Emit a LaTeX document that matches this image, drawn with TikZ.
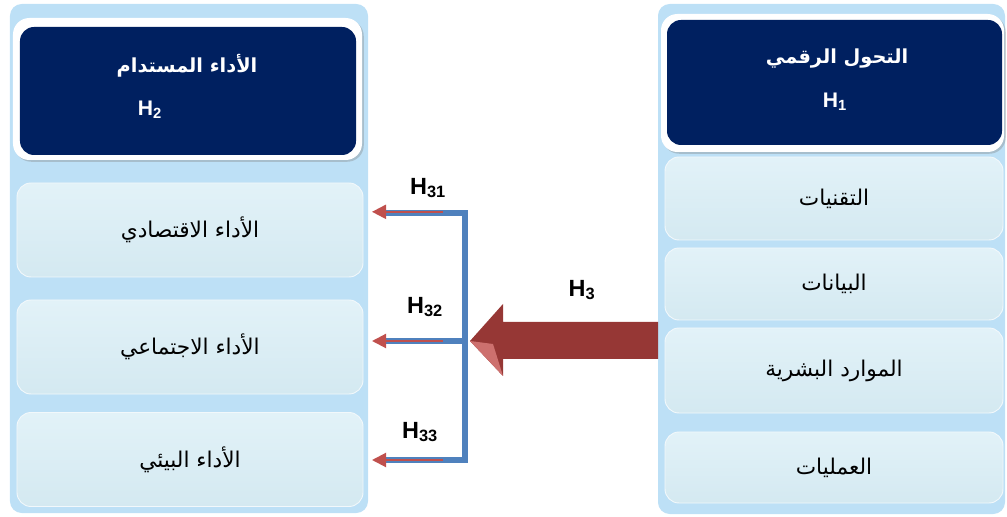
\documentclass[tikz,border=0pt]{standalone}
\usepackage{fontspec}
\setmainfont{Liberation Sans}
\newfontfamily\arabicfont[Script=Arabic]{DejaVu Sans}
\TeXXeTstate=1
\usetikzlibrary{arrows.meta,positioning,shadows,calc}
\definecolor{panelblue}{RGB}{189,224,246}
\definecolor{boxtop}{RGB}{226,242,248}
\definecolor{boxbot}{RGB}{212,233,241}
\definecolor{navy}{RGB}{0,32,96}
\definecolor{brblue}{RGB}{79,129,189}
\definecolor{arrred}{RGB}{192,80,77}
\definecolor{bigred}{RGB}{150,55,53}
\definecolor{lightred}{RGB}{205,112,110}
\begin{document}
\begin{tikzpicture}[x=0.03cm,y=-0.03cm,
  panel/.style={fill=panelblue,rounded corners=10pt,inner sep=0pt,outer sep=0pt},
  hdframe/.style={fill=white,rounded corners=14pt,inner sep=0pt,outer sep=0pt,
    drop shadow={shadow xshift=1.5pt,shadow yshift=-1.5pt,opacity=0.35}},
  hdbox/.style={fill=navy,rounded corners=12pt,inner sep=0pt,outer sep=0pt},
  hdtext/.style={text=white,font=\fontsize{16.5}{18}\selectfont\bfseries},
  itembox/.style={top color=boxtop,bottom color=boxbot,draw=white!70!boxbot,line width=0.8pt,
    rounded corners=12pt,inner sep=0pt,outer sep=0pt,font=\fontsize{18.5}{20}\selectfont},
  hlabel/.style={font=\fontsize{20}{22}\selectfont\bfseries},
  bracket/.style={draw=brblue,line width=5pt},
  redarrow/.style={draw=arrred,line width=1.8pt,-{Triangle[length=0.42cm,width=0.42cm]}},
  bigarrow/.style={fill=bigred}]
\useasboundingbox (0,0) rectangle (1007,517);

% left column
\node[panel,minimum width=10.74cm,minimum height=15.27cm] (lpanel) at (189,258.5) {};
\node[hdframe,minimum width=10.47cm,minimum height=4.26cm] (h2frame) at (187.5,89) {};
\node[hdbox,minimum width=10.08cm,minimum height=3.84cm] (h2) at (188,91) {};
\node[hdtext] (h2title) at (187,66) {\arabicfont\beginR الأداء المستدام\endR};
\node[hdtext,font=\fontsize{18}{20}\selectfont\bfseries] (h2name) at (150,110) {H\textsubscript{2}};
\node[itembox,minimum width=10.38cm,minimum height=2.82cm] (eco) at (190,230) {\arabicfont\beginR الأداء الاقتصادي\endR};
\node[itembox,minimum width=10.38cm,minimum height=2.82cm] (soc) at (190,347) {\arabicfont\beginR الأداء الاجتماعي\endR};
\node[itembox,minimum width=10.38cm,minimum height=2.82cm] (env) at (190,459.5) {\arabicfont\beginR الأداء البيئي\endR};

% right column
\node[panel,minimum width=10.41cm,minimum height=15.3cm] (rpanel) at (831.5,259) {};
\node[hdframe,minimum width=10.29cm,minimum height=4.14cm] (h1frame) at (832.5,83) {};
\node[hdbox,minimum width=10.05cm,minimum height=3.75cm] (h1) at (834.5,82.5) {};
\node[hdtext] (h1title) at (837,59) {\arabicfont\beginR التحول الرقمي\endR};
\node[hdtext,font=\fontsize{18}{20}\selectfont\bfseries] (h1name) at (835,102) {H\textsubscript{1}};
\node[itembox,minimum width=10.14cm,minimum height=2.49cm] (tech) at (834,198.5) {\arabicfont\beginR التقنيات\endR};
\node[itembox,minimum width=10.14cm,minimum height=2.16cm] (data) at (834,284) {\arabicfont\beginR البيانات\endR};
\node[itembox,minimum width=10.14cm,minimum height=2.55cm] (hr) at (834,370.5) {\arabicfont\beginR الموارد البشرية\endR};
\node[itembox,minimum width=10.14cm,minimum height=2.13cm] (proc) at (834,467.5) {\arabicfont\beginR العمليات\endR};

% bracket and arrows
\coordinate (s1) at (465,213);
\coordinate (s2) at (465,341);
\coordinate (s3) at (465,460);
\coordinate (a1) at ([xshift=0.12cm]s1 -| lpanel.east);
\coordinate (a2) at ([xshift=0.12cm]s2 -| lpanel.east);
\coordinate (a3) at ([xshift=0.12cm]s3 -| lpanel.east);
\draw[bracket] ([xshift=0.33cm]a1) -- (s1) -- (s3) -- ([xshift=0.33cm]a3);
\draw[bracket] (s2) -- ([xshift=0.33cm]a2);
\draw[redarrow] ([xshift=-0.66cm,yshift=1pt]s1) -- ([yshift=1pt]a1);
\draw[redarrow] ([xshift=-0.66cm]s2) -- (a2);
\draw[redarrow] ([xshift=-0.66cm]s3) -- (a3);

\coordinate (tip) at ([xshift=0.15cm]s2);
\coordinate (tail) at (tip -| rpanel.west);
\fill[bigarrow] (tip) -- ++(33,-37) -- ++(0,18) -- ($(tail)+(0,-19)$) -- ($(tail)+(0,18)$)
  -- ($(tip)+(33,18)$) -- ++(0,17) -- cycle;
\fill[lightred] (tip) -- ($(tip)+(23,3)$) -- ($(tip)+(33,35)$) -- cycle;

\node[hlabel] (h31) at (428,188) {H\textsubscript{31}};
\node[hlabel] (h32) at (425,307) {H\textsubscript{32}};
\node[hlabel] (h33) at (420,432) {H\textsubscript{33}};
\node[hlabel] (h3) at (582,290) {H\textsubscript{3}};
\end{tikzpicture}
\end{document}
